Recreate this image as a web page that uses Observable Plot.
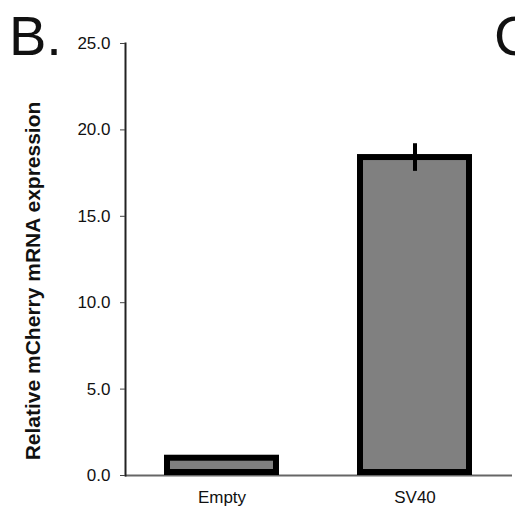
<!DOCTYPE html>
<html>
<head>
<meta charset="utf-8">
<script src="https://cdn.jsdelivr.net/npm/d3@7"></script>
<script src="https://cdn.jsdelivr.net/npm/@observablehq/plot@0.6"></script>
<style>
  html, body { margin: 0; padding: 0; background: #fff; }
  #chart { width: 515px; height: 518px; }
</style>
</head>
<body>
<div id="chart"></div>
<script>
const categories = ["Empty", "SV40"];
const values = [1.0, 18.4];
const errors = [0.1, 0.8];
const yTicks = [0, 5, 10, 15, 20, 25];
const yLabel = "Relative mCherry mRNA expression";
const panelLabel = "B.";
const nextPanelLabel = "C";

const data = categories.map((c, i) => ({cat: c, val: values[i], err: errors[i]}));
const font = "'Liberation Sans', Arial, Helvetica, sans-serif";

const chart = Plot.plot({
  width: 515,
  height: 518,
  marginLeft: 125,
  marginRight: 3,
  marginTop: 43,
  marginBottom: 43,
  style: {fontFamily: font, fontSize: "17px", background: "#fff", color: "#111"},
  x: {domain: categories, paddingInner: 0.435, paddingOuter: 0.22},
  y: {domain: [0, 25]},
  marks: [
    Plot.ruleY([0], {stroke: "#666", strokeWidth: 2}),
    Plot.frame({anchor: "left", stroke: "#222", strokeWidth: 2}),
    Plot.barY(data, {x: "cat", y: "val", fill: "#808080", stroke: "#000", strokeWidth: 6, insetBottom: 3}),
    Plot.ruleX(data, {x: "cat", y1: d => d.val - d.err, y2: d => d.val + d.err, stroke: "#000", strokeWidth: 4}),
    Plot.axisY({ticks: yTicks, tickFormat: d => d.toFixed(1), tickSize: 5, tickPadding: 10, label: null, stroke: "#444", fill: "#111"}),
    Plot.axisX({tickSize: 0, tickPadding: 15, label: null, fill: "#111"})
  ]
});

document.getElementById("chart").appendChild(chart);

const svg = d3.select(chart);
svg.append("text")
  .attr("transform", "translate(40,281) rotate(-90)")
  .attr("text-anchor", "middle")
  .attr("font-family", font)
  .attr("font-size", 21)
  .attr("font-weight", "bold")
  .attr("fill", "#111")
  .text(yLabel);
svg.append("text")
  .attr("x", 9).attr("y", 55)
  .attr("text-anchor", "start")
  .attr("font-family", font)
  .attr("font-size", 56)
  .attr("fill", "#111")
  .text(panelLabel);
svg.append("text")
  .attr("x", 494).attr("y", 55)
  .attr("text-anchor", "start")
  .attr("font-family", font)
  .attr("font-size", 56)
  .attr("fill", "#111")
  .text(nextPanelLabel);
</script>
</body>
</html>
